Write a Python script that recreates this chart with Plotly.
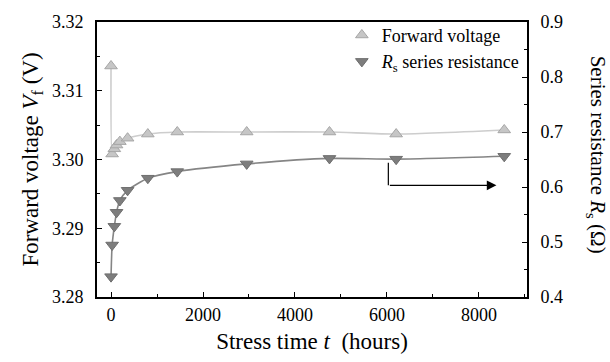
import plotly.graph_objects as go

# Data
stress_time = [0, 24, 72, 120, 192, 360, 800, 1440, 2950, 4750, 6200, 8550]
forward_voltage = [3.3136, 3.3008, 3.30155, 3.3021, 3.3026, 3.3031, 3.3037, 3.3040, 3.3040, 3.3040, 3.3037, 3.3043]
series_resistance = [0.437, 0.4945, 0.5285, 0.554, 0.5755, 0.594, 0.616, 0.628, 0.642, 0.652, 0.6506, 0.6558]

vf_ticks = [3.28, 3.29, 3.30, 3.31, 3.32]
vf_tick_text = ["3.28", "3.29", "3.30", "3.31", "3.32"]
rs_ticks = [0.4, 0.5, 0.6, 0.7, 0.8, 0.9]
x_ticks = [0, 2000, 4000, 6000, 8000]

FONT = "Liberation Serif"
V_FILL, V_EDGE, V_LINE = "#c6c6c6", "#a6a6a6", "#cdcdcd"
R_FILL, R_EDGE, R_LINE = "#7d7d7d", "#6e6e6e", "#858585"

fig = go.Figure()

fig.add_trace(go.Scatter(x=stress_time, y=forward_voltage, mode="lines",
                         line=dict(color=V_LINE, width=1.6, shape="spline", smoothing=0.6),
                         showlegend=False, hoverinfo="skip", yaxis="y"))
fig.add_trace(go.Scatter(x=stress_time, y=series_resistance, mode="lines",
                         line=dict(color=R_LINE, width=1.6, shape="spline", smoothing=0.6),
                         showlegend=False, hoverinfo="skip", yaxis="y2"))
fig.add_trace(go.Scatter(x=stress_time, y=forward_voltage, mode="markers", name="Forward voltage",
                         marker=dict(symbol="triangle-up", size=11, color=V_FILL,
                                     line=dict(color=V_EDGE, width=1)), yaxis="y"))
fig.add_trace(go.Scatter(x=stress_time, y=series_resistance, mode="markers",
                         name="<i>R</i><sub>s</sub> series resistance",
                         marker=dict(symbol="triangle-down", size=11, color=R_FILL,
                                     line=dict(color=R_EDGE, width=1)), yaxis="y2"))

# arrow pointing to the right axis
fig.add_shape(type="line", xref="x", yref="y2", x0=6030, x1=6030, y0=0.644, y1=0.603,
              line=dict(color="black", width=1.2))
fig.add_annotation(xref="x", yref="y2", axref="x", ayref="y2",
                   x=8380, y=0.603, ax=6030, ay=0.603, text="",
                   showarrow=True, arrowhead=2, arrowsize=1.6, arrowwidth=1.2, arrowcolor="black")

# right axis title (reads top to bottom)
fig.add_annotation(xref="paper", yref="paper", x=1.0, y=0.5176, xshift=70, xanchor="center",
                   yanchor="middle", text="Series resistance <i>R</i><sub>s</sub> (Ω)",
                   textangle=90, showarrow=False, font=dict(family=FONT, size=21, color="black"))

axis_common = dict(showgrid=False, zeroline=False, linecolor="black", linewidth=2,
                   ticks="inside", tickcolor="black", tickwidth=1.2, ticklen=5,
                   tickfont=dict(family=FONT, size=18, color="black"))

fig.update_layout(
    width=610, height=362,
    margin=dict(l=97, r=83, t=13, b=65),
    paper_bgcolor="white", plot_bgcolor="white",
    font=dict(family=FONT, color="black"),
    xaxis=dict(range=[-305, 9045], tickvals=x_ticks, showline=True, mirror=True,
               minor=dict(ticks="inside", dtick=1000, tick0=0, ticklen=3, tickcolor="black"),
               title=dict(text="Stress time <i>t</i>  (hours)", font=dict(family=FONT, size=23),
                          standoff=9),
               **axis_common),
    yaxis=dict(range=[3.28, 3.32], tickvals=vf_ticks, ticktext=vf_tick_text, showline=True,
               minor=dict(ticks="inside", dtick=0.005, tick0=3.28, ticklen=3, tickcolor="black"),
               ticklabelstandoff=8,
               title=dict(text="Forward voltage <i>V</i><sub>f</sub> (V)",
                          font=dict(family=FONT, size=23), standoff=7),
               **axis_common),
    yaxis2=dict(range=[0.4, 0.9], tickvals=rs_ticks, overlaying="y", side="right", showline=True,
                minor=dict(ticks="inside", dtick=0.05, tick0=0.4, ticklen=3, tickcolor="black"),
                ticklabelstandoff=8,
                **axis_common),
    legend=dict(x=0.995, y=1.019, xanchor="right", yanchor="top", bgcolor="rgba(0,0,0,0)",
                font=dict(family=FONT, size=18, color="black"), tracegroupgap=0,
                itemwidth=30),
)

fig.write_html("out.html")
